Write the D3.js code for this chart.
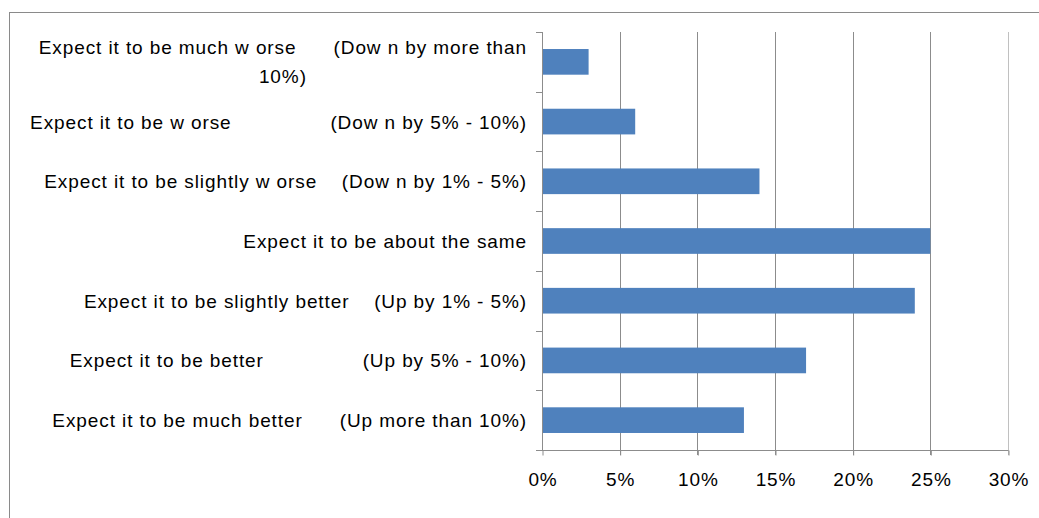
<!DOCTYPE html>
<html>
<head>
<meta charset="utf-8">
<script src="https://cdn.jsdelivr.net/npm/d3@7"></script>
<style>
  html, body { margin: 0; padding: 0; background: #fff; }
  svg { display: block; font-family: 'Liberation Sans', Arial, sans-serif; }
</style>
</head>
<body>
<div id="chart"></div>
<script>
// label lines per category (spaces kept as in the source labels)
const categories = [
  ['Expect it to be much w orse      (Dow n by more than', '10%)'],
  ['Expect it to be w orse                (Dow n by 5% - 10%)'],
  ['Expect it to be slightly w orse    (Dow n by 1% - 5%)'],
  ['Expect it to be about the same'],
  ['Expect it to be slightly better    (Up by 1% - 5%)'],
  ['Expect it to be better                (Up by 5% - 10%)'],
  ['Expect it to be much better      (Up more than 10%)'],
]
const values = [3, 6, 14, 25, 24, 17, 13]
const xTicks = [0, 5, 10, 15, 20, 25, 30]

const width = 1039
const height = 518
const marginTop = 32
const marginLeft = 542
const marginRight = 31
const marginBottom = 68
const fontSize = '19px'
const letterSpacing = '0.9px'

const svg = d3
  .select('#chart')
  .append('svg')
  .attr('width', width)
  .attr('height', height)

// outer chart frame (extends past the view on right and bottom)
svg
  .append('rect')
  .attr('x', 9.5)
  .attr('y', 12.5)
  .attr('width', 1100)
  .attr('height', 600)
  .attr('fill', 'none')
  .attr('stroke', '#8a8a8a')

const coreW = width - marginLeft - marginRight
const coreH = height - marginTop - marginBottom

const chartCore = svg
  .append('g')
  .attr('transform', `translate(${marginLeft}, ${marginTop})`)

const data = categories.map((lines, i) => ({ lines, value: values[i], key: i }))

const xScale = d3.scaleLinear().domain([0, 30]).range([0, coreW])

const yScale = d3
  .scaleBand()
  .domain(data.map(d => d.key))
  .range([0, coreH])
  .paddingInner(0.57)
  .paddingOuter(0.285)

// vertical gridlines
chartCore
  .selectAll('line.grid')
  .data(xTicks.filter(t => t > 0))
  .join('line')
  .attr('class', 'grid')
  .attr('x1', d => Math.round(xScale(d)) + 0.5)
  .attr('x2', d => Math.round(xScale(d)) + 0.5)
  .attr('y1', 0)
  .attr('y2', coreH + 5)
  .attr('stroke', d => (d === 30 ? '#c0c0c0' : '#8c8c8c'))

// bars
chartCore
  .selectAll('rect.bar')
  .data(data)
  .join('rect')
  .attr('class', 'bar')
  .attr('x', xScale(0))
  .attr('y', d => yScale(d.key))
  .attr('width', d => xScale(d.value) - xScale(0))
  .attr('height', yScale.bandwidth())
  .attr('fill', '#4f81bd')

// x-axis
chartCore
  .append('g')
  .attr('class', 'x-axis')
  .attr('transform', `translate(0.5, ${coreH + 0.5})`)
  .call(
    d3
      .axisBottom(xScale)
      .tickValues(xTicks)
      .tickFormat(d => `${d}%`)
      .tickSize(5)
      .tickPadding(17)
      .tickSizeOuter(0),
  )
  .call(g => {
    g.select('.domain').attr('stroke', '#8c8c8c').attr('d', `M-6,0H${coreW}`)
    g.selectAll('.tick line').attr('stroke', '#8c8c8c')
    g.selectAll('.tick text')
      .attr('fill', '#000')
      .style('font-size', fontSize)
      .style('letter-spacing', letterSpacing)
      .style('font-family', "'Liberation Sans', Arial, sans-serif")
  })

// y-axis line and boundary ticks
const yAxis = chartCore.append('g').attr('class', 'y-axis')
yAxis
  .append('line')
  .attr('x1', 0.5)
  .attr('x2', 0.5)
  .attr('y1', 0)
  .attr('y2', coreH)
  .attr('stroke', '#8c8c8c')
yAxis
  .selectAll('line.ytick')
  .data(d3.range(categories.length + 1))
  .join('line')
  .attr('class', 'ytick')
  .attr('x1', -6)
  .attr('x2', 0.5)
  .attr('y1', i => Math.round(i * yScale.step()) + 0.5)
  .attr('y2', i => Math.round(i * yScale.step()) + 0.5)
  .attr('stroke', '#8c8c8c')

// category labels: single lines right-aligned, wrapped lines centred in a right-aligned block
const lineHeight = 29
const labelRight = -15
chartCore
  .selectAll('text.cat')
  .data(data)
  .join('text')
  .attr('class', 'cat')
  .style('font-size', fontSize)
  .style('letter-spacing', letterSpacing)
  .style('white-space', 'pre')
  .attr('fill', '#000')
  .each(function (d) {
    const t = d3.select(this)
    const cy = yScale(d.key) + yScale.bandwidth() / 2
    const n = d.lines.length
    const spans = t
      .selectAll('tspan')
      .data(d.lines)
      .join('tspan')
      .text(s => s)
      .attr('y', (s, i) => cy + 7 + (i - (n - 1) / 2) * lineHeight)
    if (n === 1) {
      spans.attr('x', labelRight).attr('text-anchor', 'end')
    } else {
      const widths = spans.nodes().map(node => node.getComputedTextLength())
      const maxW = d3.max(widths)
      spans.attr('x', labelRight - maxW / 2).attr('text-anchor', 'middle')
    }
  })
</script>
</body>
</html>
